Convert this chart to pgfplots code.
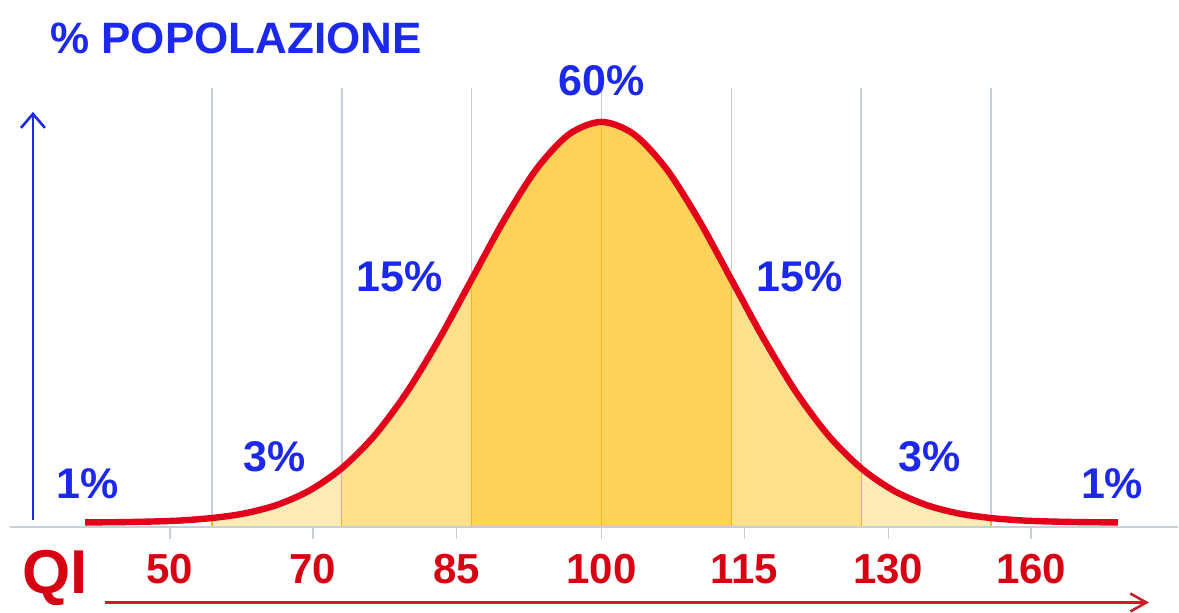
\documentclass[border=0pt]{standalone}
\usepackage{pgfplots}
\pgfplotsset{compat=1.18}
\usepackage{fontspec}
\setmainfont{Liberation Sans}
\usetikzlibrary{arrows.meta}
\definecolor{txtblue}{RGB}{28,40,235}
\definecolor{qired}{RGB}{214,0,18}
\definecolor{curvered}{RGB}{226,0,26}
\definecolor{arrowred}{RGB}{200,30,40}
\definecolor{gridgray}{RGB}{200,206,214}
\definecolor{flight}{RGB}{253,236,182}
\definecolor{fmed}{RGB}{253,224,140}
\definecolor{fdark}{RGB}{252,210,90}
\definecolor{fline}{RGB}{240,184,35}
\begin{document}
\begin{tikzpicture}
\begin{axis}[width=589.5pt, height=304.5pt, scale only axis, axis lines=none,
  xmin=-4.6308, xmax=4.4385, ymin=-82, ymax=527, clip=false]
\path (rel axis cs:0,0) rectangle (rel axis cs:1,1);
% gray grid lines
\addplot[ycomb, color=gridgray, line width=0.8pt, mark=none] coordinates {
(-3,439) (-2,439) (-1,439) (0,439) (1,439) (2,439) (3,439)};
% fills
\addplot[draw=none, fill=flight, smooth] coordinates {
(-3,8.5) (-2.75,13.1) (-2.5,21.6) (-2.25,35.9) (-2,58.3)} \closedcycle;
\addplot[draw=none, fill=fmed, smooth] coordinates {
(-2,58.3) (-1.75,90.7) (-1.5,134.2) (-1.25,187.6) (-1,247.2)} \closedcycle;
\addplot[draw=none, fill=fdark, smooth] coordinates {
(-1,247.2) (-0.75,306.7) (-0.5,357.9) (-0.25,392.6) (0,405) (0.25,392.6) (0.5,357.9) (0.75,306.7) (1,247.2)} \closedcycle;
\addplot[draw=none, fill=fmed, smooth] coordinates {
(1,247.2) (1.25,187.6) (1.5,134.2) (1.75,90.7) (2,58.3)} \closedcycle;
\addplot[draw=none, fill=flight, smooth] coordinates {
(2,58.3) (2.25,35.9) (2.5,21.6) (2.75,13.1) (3,8.5)} \closedcycle;
% orange lines inside fill
\addplot[ycomb, color=fline, line width=0.7pt, mark=none] coordinates {
(-3,8.5) (-2,58.3) (-1,247.2) (0,405) (1,247.2) (2,58.3) (3,8.5)};
% baseline
\draw[gridgray, line width=1pt] (axis cs:-4.554,0) -- (axis cs:4.4385,0);
% tick marks
\addplot[ycomb, color=gridgray, line width=0.8pt, mark=none] coordinates {
(-3.323,-12) (-2.223,-12) (-1.115,-12) (0,-12) (1.1,-12) (2.208,-12) (3.308,-12)};
% curve
\addplot[color=curvered, line width=3.2pt, smooth, mark=none] coordinates {
(-3.975,4.15) (-3.75,4.35) (-3.5,4.9) (-3.25,6.0) (-3,8.5) (-2.75,13.1) (-2.5,21.6) (-2.25,35.9) (-2,58.3)
(-1.75,90.7) (-1.5,134.2) (-1.25,187.6) (-1,247.2) (-0.75,306.7) (-0.5,357.9) (-0.25,392.6) (0,405)
(0.25,392.6) (0.5,357.9) (0.75,306.7) (1,247.2) (1.25,187.6) (1.5,134.2) (1.75,90.7) (2,58.3)
(2.25,35.9) (2.5,21.6) (2.75,13.1) (3,8.5) (3.25,6.0) (3.5,4.9) (3.75,4.35) (3.975,4.15)};
% arrows
\draw[txtblue, line width=1.3pt, -{Straight Barb[length=7pt,width=12pt]}] (axis cs:-4.377,7) -- (axis cs:-4.377,415);
\draw[arrowred, line width=1.3pt, -{Straight Barb[length=8pt,width=9pt]}] (axis cs:-3.823,-76) -- (axis cs:4.215,-76);
% texts
\node[anchor=west, text=txtblue, font=\fontsize{22}{26}\selectfont\bfseries, inner sep=0pt] at (axis cs:-4.246,489) {\% POPOLAZIONE};
\begin{scope}[every node/.style={text=txtblue, font=\fontsize{21.5}{25}\selectfont\bfseries, inner sep=0pt}]
\node at (axis cs:0,446) {60\%};
\node at (axis cs:-1.554,250) {15\%};
\node at (axis cs:1.523,250) {15\%};
\node at (axis cs:-2.515,70) {3\%};
\node at (axis cs:2.523,70) {3\%};
\node at (axis cs:-3.954,43) {1\%};
\node at (axis cs:3.931,43) {1\%};
\end{scope}
\node[text=qired, font=\fontsize{31}{35}\selectfont\bfseries, inner sep=0pt] at (axis cs:-4.208,-51) {QI};
\begin{scope}[every node/.style={text=qired, font=\fontsize{21}{25}\selectfont\bfseries, inner sep=0pt}]
\node at (axis cs:-3.323,-43) {50};
\node at (axis cs:-2.223,-43) {70};
\node at (axis cs:-1.115,-43) {85};
\node at (axis cs:0,-43) {100};
\node at (axis cs:1.1,-43) {115};
\node at (axis cs:2.208,-43) {130};
\node at (axis cs:3.308,-43) {160};
\end{scope}
\end{axis}
\end{tikzpicture}
\end{document}
